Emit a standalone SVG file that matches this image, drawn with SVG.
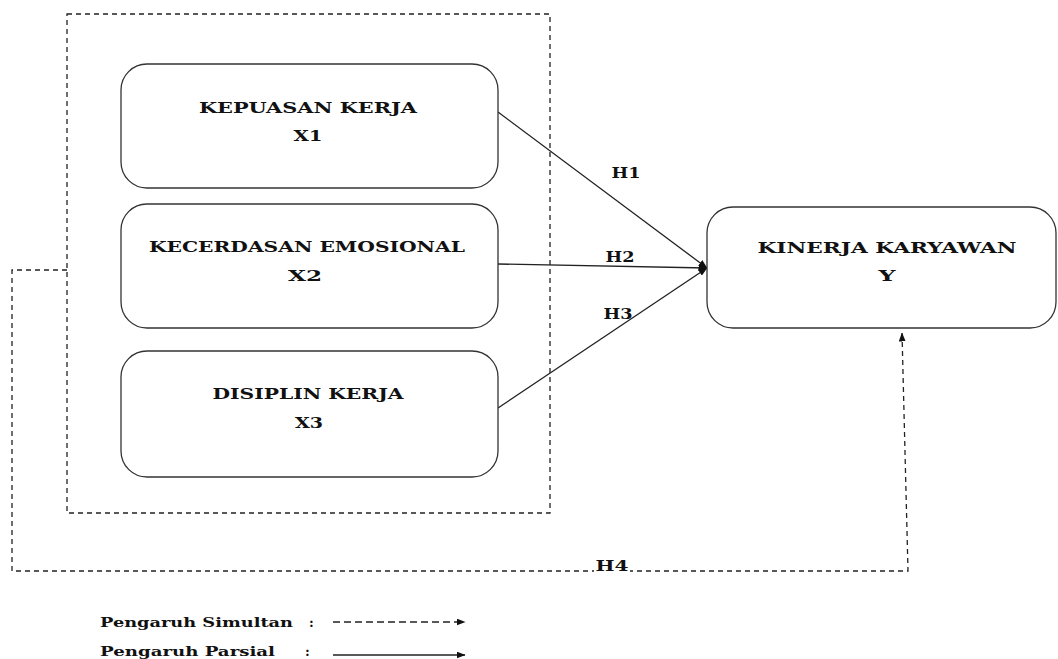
<svg xmlns="http://www.w3.org/2000/svg" width="1058" height="659" viewBox="0 0 1058 659">
<style>
.box{fill:#fff;stroke:#333;stroke-width:1.3}
.t{font-family:"DejaVu Serif","Liberation Serif",serif;font-weight:bold;font-size:14px;fill:#111;text-anchor:middle}
.lt{font-family:"DejaVu Serif","Liberation Serif",serif;font-weight:bold;font-size:13px;fill:#111}
.solid{fill:none;stroke:#222;stroke-width:1.3}
.dash{fill:none;stroke:#222;stroke-width:1.3;stroke-dasharray:5,4}
.ldash{fill:none;stroke:#222;stroke-width:1.3;stroke-dasharray:7,4}
</style>
<defs>
<marker id="ah" markerWidth="9" markerHeight="7" refX="8.5" refY="3.5" orient="auto" markerUnits="userSpaceOnUse">
<path d="M0,0 L9,3.5 L0,7 Z" fill="#111"/>
</marker>
</defs>
<rect x="0" y="0" width="1058" height="659" fill="#fff"/>
<g id="group-box">
<rect x="67" y="14" width="483" height="499" class="dash"/>
</g>
<g id="connectors">
<line x1="498" y1="112" x2="707" y2="268" class="solid" marker-end="url(#ah)"/>
<line x1="498" y1="264" x2="707" y2="268" class="solid" marker-end="url(#ah)"/>
<line x1="498" y1="408" x2="707" y2="268" class="solid" marker-end="url(#ah)"/>
<polyline points="67,270 12,270 12,571 908,571 902,333" class="dash" marker-end="url(#ah)"/>
</g>
<g id="labels">
<text x="626" y="178" class="t" textLength="29" lengthAdjust="spacingAndGlyphs">H1</text>
<text x="620" y="262" class="t" textLength="29" lengthAdjust="spacingAndGlyphs">H2</text>
<text x="618" y="319" class="t" textLength="29" lengthAdjust="spacingAndGlyphs">H3</text>
<rect x="594" y="565" width="36" height="10" fill="#fff"/>
<text x="612" y="571" class="t" textLength="33" lengthAdjust="spacingAndGlyphs">H4</text>
</g>
<g id="x1">
<rect x="121" y="64" width="377" height="124" rx="26" class="box"/>
<text x="308" y="113" class="t" textLength="218" lengthAdjust="spacingAndGlyphs">KEPUASAN KERJA</text>
<text x="308" y="141" class="t" textLength="29" lengthAdjust="spacingAndGlyphs">X1</text>
</g>
<g id="x2">
<rect x="121" y="204" width="377" height="124" rx="26" class="box"/>
<text x="307" y="252" class="t" textLength="316" lengthAdjust="spacingAndGlyphs">KECERDASAN EMOSIONAL</text>
<text x="305" y="281" class="t" textLength="34" lengthAdjust="spacingAndGlyphs">X2</text>
</g>
<g id="x3">
<rect x="121" y="351" width="377" height="126" rx="26" class="box"/>
<text x="308" y="399" class="t" textLength="191" lengthAdjust="spacingAndGlyphs">DISIPLIN KERJA</text>
<text x="309" y="428" class="t" textLength="28" lengthAdjust="spacingAndGlyphs">X3</text>
</g>
<g id="y">
<rect x="707" y="207" width="349" height="121" rx="26" class="box"/>
<text x="887" y="253" class="t" textLength="259" lengthAdjust="spacingAndGlyphs">KINERJA KARYAWAN</text>
<text x="887" y="281" class="t" textLength="17" lengthAdjust="spacingAndGlyphs">Y</text>
</g>
<g id="legend">
<text x="100" y="627" class="lt" textLength="193" lengthAdjust="spacingAndGlyphs">Pengaruh Simultan</text>
<text x="309" y="627" class="lt">:</text>
<text x="100" y="656" class="lt" textLength="175" lengthAdjust="spacingAndGlyphs">Pengaruh Parsial</text>
<text x="305" y="656" class="lt">:</text>
<line x1="333" y1="622" x2="465" y2="622" class="ldash" marker-end="url(#ah)"/>
<line x1="333" y1="655" x2="465" y2="655" class="solid" marker-end="url(#ah)"/>
</g>
</svg>
